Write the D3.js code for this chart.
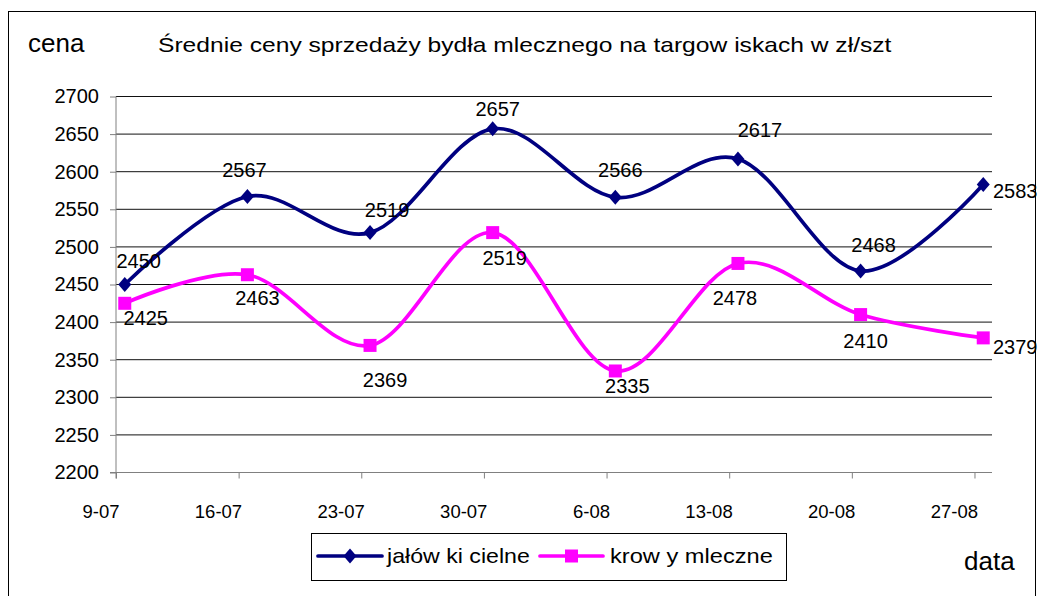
<!DOCTYPE html>
<html>
<head>
<meta charset="utf-8">
<script src="https://cdn.jsdelivr.net/npm/d3@7"></script>
<style>
  body { margin: 0; background: #fff; }
  text { font-family: "Liberation Sans", Arial, sans-serif; fill: #000; }
</style>
</head>
<body>
<div id="chart"></div>
<script>
"use strict";

// data
var categories = ["9-07", "16-07", "23-07", "30-07", "6-08", "13-08", "20-08", "27-08"];
var dates = ["2007-07-09", "2007-07-16", "2007-07-23", "2007-07-30", "2007-08-06", "2007-08-13", "2007-08-20", "2007-08-27"];
var jalowki = [2450, 2567, 2519, 2657, 2566, 2617, 2468, 2583];
var krowy = [2425, 2463, 2369, 2519, 2335, 2478, 2410, 2379];
var yTicks = [2200, 2250, 2300, 2350, 2400, 2450, 2500, 2550, 2600, 2650, 2700];
var seriesNames = ["jałów ki cielne", "krow y mleczne"];

// where each value label sits relative to its point (the original had them nudged by hand)
var jalowkiLabelOffsets = [[14, -17], [-3, -20], [17, -16], [5, -13], [5, -20], [22, -22], [13, -19], [32, 14]];
var krowyLabelOffsets = [[21, 22], [10, 30], [15, 42], [12, 32], [12, 22], [-3, 42], [5, 33], [32, 16]];

var W = 1039, H = 596;
var plotLeft = 116, plotRight = 992, plotTop = 96.5, plotBottom = 472.5;

var svg = d3.select("#chart").append("svg").attr("width", W).attr("height", H);

svg.append("rect").attr("x", 8.5).attr("y", 11.5).attr("width", 1027).attr("height", 620)
  .attr("fill", "#fff").attr("stroke", "#000").attr("stroke-width", 1);

var parse = d3.utcParse("%Y-%m-%d");
var dayMs = 24 * 3600 * 1000;
var start = parse(dates[0]);
var end = new Date(parse(dates[dates.length - 1]).getTime() + dayMs);

var x = d3.scaleUtc().domain([start, end]).range([plotLeft, plotRight]);
var halfDay = (x(new Date(start.getTime() + dayMs)) - x(start)) / 2;
var y = d3.scaleLinear().domain([2200, 2700]).range([plotBottom, plotTop]);

function px(i) { return x(parse(dates[i])) + halfDay; }

// text stretched sideways to the width it had in the original
function wideText(tx, ty, size, width, str) {
  var t = svg.append("text").attr("font-size", size).text(str);
  var w = t.node().getComputedTextLength();
  t.attr("transform", "translate(" + tx + "," + ty + ") scale(" + (width / w) + ",1)");
  return t;
}

// gridlines
svg.append("g").selectAll("line").data(yTicks.slice(1)).enter().append("line")
  .attr("x1", plotLeft).attr("x2", plotRight)
  .attr("y1", function (d) { return y(d); }).attr("y2", function (d) { return y(d); })
  .attr("stroke", "#111").attr("stroke-width", 1);

// y axis
var yAxis = svg.append("g").attr("transform", "translate(" + plotLeft + ",0)")
  .call(d3.axisLeft(y).tickValues(yTicks).tickSize(6).tickPadding(11).tickFormat(d3.format("d")));
yAxis.select(".domain").attr("stroke", "#808080").attr("d", "M0," + plotTop + "V" + (plotBottom + 6));
yAxis.selectAll(".tick line").attr("stroke", "#808080");
yAxis.selectAll(".tick text").attr("font-size", 20).attr("font-family", "Liberation Sans, Arial, sans-serif");

// x axis
var xAxis = svg.append("g").attr("transform", "translate(0," + plotBottom + ")")
  .call(d3.axisBottom(x).tickValues(dates.map(parse)).tickSize(6)
    .tickFormat(function (d, i) { return categories[i]; }));
xAxis.select(".domain").attr("stroke", "#808080").attr("d", "M" + (plotLeft - 6) + ",0H" + plotRight);
xAxis.selectAll(".tick line").attr("stroke", "#808080");
xAxis.selectAll(".tick text").attr("font-size", 18.5).attr("font-family", "Liberation Sans, Arial, sans-serif")
  .attr("text-anchor", "end").attr("x", 3).attr("dy", null).attr("y", 45);

var line = d3.line()
  .x(function (d, i) { return px(i); })
  .y(function (d) { return y(d); })
  .curve(d3.curveCatmullRom.alpha(0));

var diamond = "M0,-7.5L6.5,0L0,7.5L-6.5,0Z";
var square = "M-6.5,-6.5H6.5V6.5H-6.5Z";

function drawSeries(values, color, marker, offsets) {
  svg.append("path").datum(values).attr("d", line)
    .attr("fill", "none").attr("stroke", color).attr("stroke-width", 3.7).attr("stroke-linejoin", "round");

  svg.append("g").selectAll("path").data(values).enter().append("path")
    .attr("d", marker).attr("fill", color)
    .attr("transform", function (d, i) { return "translate(" + px(i) + "," + y(d) + ")"; });

  svg.append("g").selectAll("text").data(values).enter().append("text")
    .attr("x", function (d, i) { return px(i) + offsets[i][0]; })
    .attr("y", function (d, i) { return y(d) + offsets[i][1]; })
    .attr("text-anchor", "middle").attr("font-size", 20)
    .text(function (d) { return d; });
}

drawSeries(krowy, "#ff00ff", square, krowyLabelOffsets);
drawSeries(jalowki, "#000080", diamond, jalowkiLabelOffsets);

// titles
wideText(158, 52, 20, 734, "Średnie ceny sprzedaży bydła mlecznego na targow iskach w  zł/szt");
svg.append("text").attr("x", 28).attr("y", 52).attr("font-size", 26).text("cena");
svg.append("text").attr("x", 964).attr("y", 570).attr("font-size", 26).text("data");

// legend
var legend = svg.append("g");
legend.append("rect").attr("x", 311.5).attr("y", 533.5).attr("width", 475).attr("height", 47)
  .attr("fill", "#fff").attr("stroke", "#000");
var legendItems = [
  { name: seriesNames[0], color: "#000080", marker: diamond, x0: 318, x1: 382, tx: 387, tw: 143 },
  { name: seriesNames[1], color: "#ff00ff", marker: square, x0: 540, x1: 603, tx: 610, tw: 163 }
];
legendItems.forEach(function (it) {
  legend.append("line").attr("x1", it.x0).attr("x2", it.x1).attr("y1", 556).attr("y2", 556)
    .attr("stroke", it.color).attr("stroke-width", 3.7).attr("stroke-linecap", "round");
  legend.append("path").attr("d", it.marker).attr("fill", it.color)
    .attr("transform", "translate(" + ((it.x0 + it.x1) / 2) + ",556)");
  wideText(it.tx, 563, 20, it.tw, it.name);
});
</script>
</body>
</html>
